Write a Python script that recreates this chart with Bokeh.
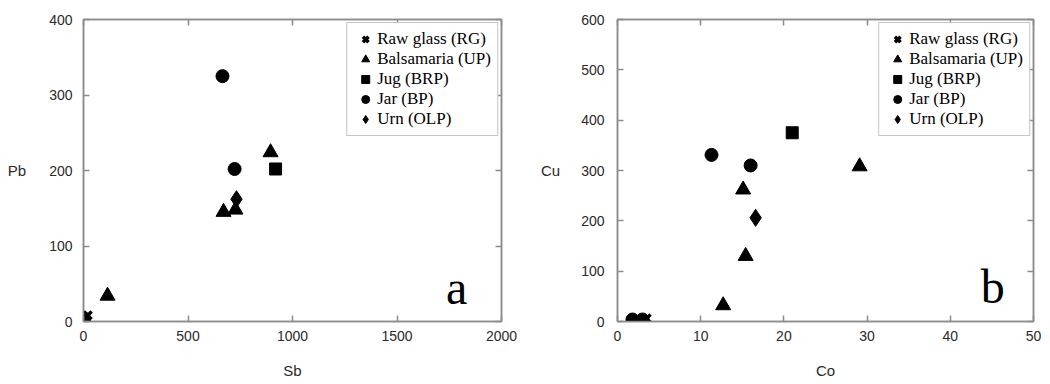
from bokeh.plotting import figure
from bokeh.models import Range1d, Label, Legend, LinearAxis
from bokeh.layouts import row
from bokeh.embed import file_html
from bokeh.resources import INLINE

# ---- data, panel a (Sb vs Pb) ----
raw_sb = [20]; raw_pb = [8]
bal_sb = [115, 670, 727, 895]; bal_pb = [34, 145, 148, 224]
jug_sb = [919]; jug_pb = [202]
jar_sb = [3, 665, 723]; jar_pb = [4, 325, 202]
urn_sb = [732]; urn_pb = [162]

# ---- data, panel b (Co vs Cu) ----
raw_co = [3.5]; raw_cu = [6]
bal_co = [12.7, 15.1, 15.4, 29.1]; bal_cu = [32, 262, 130, 308]
jug_co = [21.0]; jug_cu = [375]
jar_co = [1.8, 3.0, 11.3, 16.0]; jar_cu = [4, 4, 331, 310]
urn_co = [16.6]; urn_cu = [206]

groups = ["Raw glass (RG)", "Balsamaria (UP)", "Jug (BRP)", "Jar (BP)", "Urn (OLP)"]
xticks_a = [0, 500, 1000, 1500, 2000]; yticks_a = [0, 100, 200, 300, 400]
xticks_b = [0, 10, 20, 30, 40, 50]; yticks_b = [0, 100, 200, 300, 400, 500, 600]

GRAY = "#8c8c8c"
SANS = "Liberation Sans"
SERIF = "Liberation Serif"


def make_panel(width, borders, ystand, xr, yr, xt, yt, xlab, ylab, letter, letter_pos, data):
    bl, br, bt, bb = borders
    p = figure(width=width, height=382, output_backend="svg", toolbar_location=None,
               x_range=Range1d(*xr), y_range=Range1d(*yr),
               min_border_left=bl, min_border_right=br, min_border_top=bt,
               min_border_bottom=bb)
    p.grid.visible = False
    p.outline_line_color = GRAY
    p.outline_line_width = 1.5
    p.background_fill_color = "white"
    p.border_fill_color = "white"

    p.add_layout(LinearAxis(), "above")
    p.add_layout(LinearAxis(), "right")
    for ax in p.axis:
        ax.axis_line_color = GRAY
        ax.axis_line_width = 1.5
        ax.major_tick_line_color = GRAY
        ax.major_tick_line_width = 1.5
        ax.major_tick_in = 6
        ax.major_tick_out = 0
        ax.minor_tick_line_color = None
        ax.major_label_text_font = SANS
        ax.major_label_text_font_size = "14px"
        ax.major_label_text_color = "#2a2a2a"
    p.xaxis.ticker = xt
    p.yaxis.ticker = yt
    for ax in [p.above[0], p.right[0]]:
        ax.major_label_text_color = None
        ax.major_label_text_font_size = "1px"
        ax.major_label_standoff = 0
    xa = p.below[0]
    xa.major_label_standoff = 9
    xa.axis_label = xlab
    xa.axis_label_text_font = SANS
    xa.axis_label_text_font_size = "15px"
    xa.axis_label_text_font_style = "normal"
    xa.axis_label_text_color = "#2a2a2a"
    xa.axis_label_standoff = 18

    ya = p.left[0]
    ya.major_label_standoff = ystand[0]
    ya.axis_label = ylab
    ya.axis_label_orientation = "horizontal"
    ya.axis_label_text_baseline = "bottom"
    ya.axis_label_text_font = SANS
    ya.axis_label_text_font_size = "15px"
    ya.axis_label_text_font_style = "normal"
    ya.axis_label_text_color = "#2a2a2a"
    ya.axis_label_standoff = ystand[1]

    p.add_layout(Label(x=letter_pos[0], y=letter_pos[1], text=letter,
                       text_align="center", text_baseline="bottom",
                       text_font=SERIF, text_font_size="48px", text_color="black"))

    (rx, ry), (bx, by), (jx, jy), (cx, cy), (ux, uy) = data
    r_bal = p.scatter(bx, by, marker="triangle", size=15, color="black")
    r_jug = p.scatter(jx, jy, marker="square", size=12, color="black")
    r_jar = p.scatter(cx, cy, marker="circle", size=13, color="black")
    r_urn = p.scatter(ux, uy, marker="diamond", size=17, color="black")
    r_raw = p.scatter(rx, ry, marker="x", size=11, line_width=3.5, color="black")

    leg = Legend(items=[(groups[0], [r_raw]), (groups[1], [r_bal]), (groups[2], [r_jug]),
                        (groups[3], [r_jar]), (groups[4], [r_urn])],
                 location="top_right")
    leg.margin = 3
    leg.padding = 6
    leg.spacing = 0
    leg.glyph_width = 24
    leg.glyph_height = 20
    leg.label_height = 20
    leg.label_standoff = 0
    leg.label_text_font = SERIF
    leg.label_text_font_size = "17px"
    leg.label_text_color = "black"
    leg.border_line_color = GRAY
    leg.border_line_width = 1.5
    leg.background_fill_color = "white"
    leg.background_fill_alpha = 1
    p.add_layout(leg)
    return p


pa = make_panel(520, (83, 19, 18, 61), (11, 20), (0, 2000), (0, 400), xticks_a, yticks_a,
                "Sb", "Pb", "a", (1785, 10.5),
                [(raw_sb, raw_pb), (bal_sb, bal_pb), (jug_sb, jug_pb), (jar_sb, jar_pb), (urn_sb, urn_pb)])
pb = make_panel(522, (97, 9, 19, 61), (13, 18), (0, 50), (0, 600), xticks_b, yticks_b,
                "Co", "Cu", "b", (45.1, 16),
                [(raw_co, raw_cu), (bal_co, bal_cu), (jug_co, jug_cu), (jar_co, jar_cu), (urn_co, urn_cu)])

layout = row(pa, pb)
open("out.html", "w").write(file_html(layout, INLINE))
